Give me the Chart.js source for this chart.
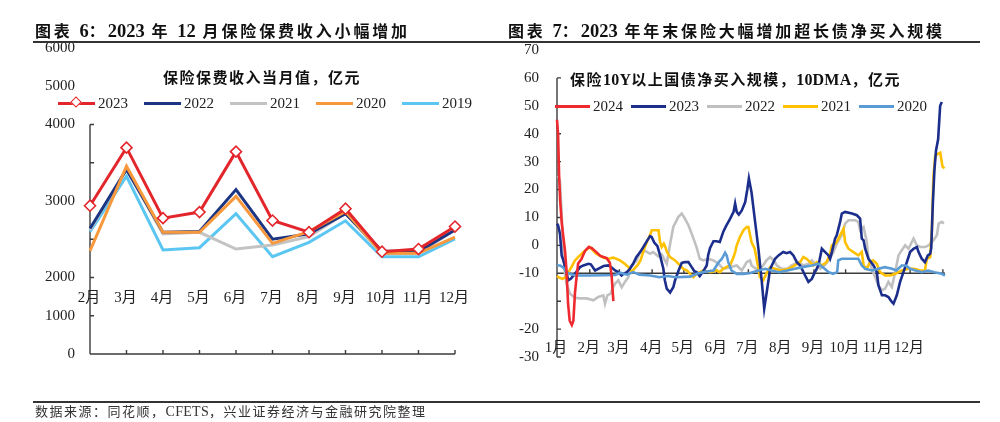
<!DOCTYPE html>
<html><head><meta charset="utf-8">
<script src="https://cdn.jsdelivr.net/npm/chart.js@4.4.1/dist/chart.umd.min.js"></script>
<style>
html,body{margin:0;padding:0;background:#fff;width:1000px;height:422px;overflow:hidden;position:relative;}
.abs{position:absolute;white-space:nowrap;}
.hdr{font-family:"Liberation Serif","Noto Sans CJK SC",serif;font-weight:bold;font-size:16px;letter-spacing:2.85px;color:#111;line-height:20px;}
.hdr .n{font-size:18.5px;letter-spacing:0;}
.sub{font-family:"Liberation Serif","Noto Sans CJK SC",serif;font-weight:bold;font-size:15px;letter-spacing:1.5px;color:#111;line-height:20px;}
.sub .n{font-size:16px;letter-spacing:0.2px;}
.src{font-family:"Liberation Serif","Noto Sans CJK SC",serif;font-size:13px;letter-spacing:1.5px;color:#333;line-height:16px;}
.src .n{font-size:14px;letter-spacing:0.3px;}
.rule{position:absolute;background:#333;height:1.5px;}
.leg{display:flex;align-items:center;font-family:"Liberation Serif",serif;font-size:15px;color:#222;line-height:18px;}
.leg .it{display:flex;align-items:center;position:relative;}
.leg .ln{display:inline-block;height:3px;}
.dia{position:absolute;width:6px;height:6px;background:#fff;border:1.6px solid;transform:rotate(45deg);}
canvas{position:absolute;top:0;}
</style></head>
<body>
<canvas id="cL" width="500" height="422" style="left:0"></canvas>
<canvas id="cR" width="500" height="422" style="left:500px"></canvas>

<div class="abs hdr" style="left:35px;top:21px;">图表 <span class="n">6</span>：<span class="n">2023</span> 年 <span class="n">12</span> 月保险保费收入小幅增加</div>
<div class="abs hdr" style="left:508px;top:21px;">图表 <span class="n">7</span>：<span class="n">2023</span> 年年末保险大幅增加超长债净买入规模</div>
<div class="rule" style="left:33px;top:41px;width:947px;"></div>
<div class="rule" style="left:33px;top:401px;width:947px;"></div>
<div class="abs src" style="left:35px;top:404px;">数据来源：同花顺，<span class="n">CFETS</span>，兴业证券经济与金融研究院整理</div>
<div class="abs sub" style="left:163px;top:68px;">保险保费收入当月值，亿元</div>
<div class="abs sub" style="left:570px;top:70px;">保险<span class="n">10Y</span>以上国债净买入规模，<span class="n">10DMA</span>，亿元</div>
<div class="abs leg" id="legL" style="left:58px;top:94px;"></div>
<div class="abs leg" id="legR" style="left:555px;top:97px;"></div>

<script>
// ---------- Left chart data (保险保费收入当月值，亿元) ----------
const monthsL = ['2月','3月','4月','5月','6月','7月','8月','9月','10月','11月','12月'];
const prem2023 = [2938, 3697, 2776, 2855, 3645, 2745, 2592, 2899, 2337, 2372, 2666];
const prem2022 = [2640, 3412, 2592, 2600, 3149, 2500, 2570, 2833, 2346, 2340, 2620];
const prem2021 = [2620, 3420, 2570, 2590, 2372, 2425, 2534, 2840, 2310, 2320, 2620];
const prem2020 = [2347, 3455, 2592, 2590, 3061, 2447, 2600, 2863, 2316, 2316, 2527];
const prem2019 = [2600, 3324, 2359, 2390, 2833, 2272, 2460, 2741, 2270, 2270, 2504];
const yTickValsL = [1000, 1500, 2000, 2500, 3000, 3500, 4000];
const yLabelValsL = [5000, 4500, 4000, 3000, 2000, 1500, 1000];
const yLabelTextL = ['6000', '5000', '4000', '3000', '2000', '1000', '0'];

// ---------- Right chart data (10DMA, 亿元), day-of-year / value ----------
const monthsR = ['1月','2月','3月','4月','5月','6月','7月','8月','9月','10月','11月','12月'];
const monthStartDays = [0,31,59,90,120,151,181,212,243,273,304,334];
const monthEndTicks = [31,59,90,120,151,181,212,243,273,304,334,365];
const yTickValsR = [-40,-30,-20,-10,0,10,20,30,40,50,60];
const yLabelValsR = [70,60,50,40,30,20,10,0,-10,-30,-40];
const yLabelTextR = ['70','60','50','40','30','20','10','0','-10','-20','-30'];

const days2024 = [0,1,2,3,4.5,6,7.6,9,10.5,12,14,15.5,17,18.6,20,23,26.5,30,33,37.5,41,47,50,51.7,53.3];
const vals2024 = [45,40,25,16,8,3,-2,-9,-21,-27,-28.5,-27,-17,-11,-6.5,-5,-2,-0.6,-1,-2.5,-3.8,-4.6,-6.2,-11,-20];

const days2023 = [0,1,2.8,4.4,6,7.6,10.7,13,17,21.8,25,29.7,32,36,39,44,48.6,52,55,58,61,63,66,69,72,75,78.5,81.7,85,88,89.5,92,95,97.5,100.6,102,103.8,107,110,111.7,115,118,121,124.3,127.4,130,132,135,138,141.6,143,144.8,148,151,154,157.4,160,163.7,167,168.5,170,172,174.8,178,180,181.5,184,187.4,190.5,193.7,196,198.4,201.6,206.3,209.5,214,217,220.5,223.6,226.8,230,234.7,237.8,241,244,247.3,250.5,253.7,256.8,258.3,260,263,264.6,267.8,269.4,272.5,279,283.6,286.7,288.3,290,291.5,294.6,299.4,302.5,304,307.3,310.4,313.5,316.7,318.3,321.4,324.6,327.7,330.9,334,337.2,340.4,342,345,348,350.8,353,354,355.5,357,358.5,360.5,362.4,364];
const vals2023 = [7.8,7.2,4.2,-3.6,-5.4,-7.8,-12.5,-12,-10.2,-7.8,-7.2,-6.6,-6.8,-9,-8.4,-7.4,-7.2,-8,-9,-9.6,-10.8,-10.2,-9.6,-8.4,-6.6,-4.2,-2.5,-0.6,1.5,3.3,3,1,-0.3,-3.6,-8.4,-12.5,-15.5,-16.9,-15,-12.5,-9,-6.3,-6,-6,-7.8,-9.3,-9.6,-11,-9.5,-7.2,-3.5,-0.9,1.5,1.5,1.2,5,7,9.5,12,15,12,11,12.5,15.5,20,24,19,8.4,-1.2,-13,-22.7,-16.7,-8.4,-4.8,-3.6,-2.4,-2.8,-2.4,-3.6,-6,-7.2,-10.8,-13.1,-12,-9.6,-7.2,-1.2,-2.4,-3.6,-4.8,-2.4,2.4,3.6,8.4,11.4,12,11.4,10.8,9.6,2.4,1.8,-1.2,-4.8,-7.2,-9.6,-14.3,-17.9,-17.9,-18.5,-20.3,-20.9,-17.9,-13,-9.6,-6,-2.4,-1.2,-0.6,-2.4,-4.8,-6,-3.6,-3,-1,15,27,34,38,50,51.4];

const days2022 = [1,2.8,4.4,6,7.6,9,12.3,17,21.8,28,34.4,39,43.8,45.4,47.6,50.8,52.7,55,58,61.2,64.4,67.5,69,72.2,75.4,78.5,83.3,88,91,96,99,103.8,107,110,114.8,118,121,124.3,127.4,132,135,138.5,143,148,152.7,157.4,163.7,170,174.8,179.5,182.6,184,190.5,195,198,201.6,205,208,212.6,218,222,225,228,233,238,241,246,249,253,258,261.5,264.6,269.4,272.5,275.7,282,285,286.7,290,293,294.6,297.8,301,304,307.3,310.4,313.5,316.7,319.9,323,326,329.3,332.5,335.6,337.2,340.4,344,348.2,351.4,356,359.3,361,364,366];
const vals2022 = [25,23,11.4,-0.6,-10.2,-13.7,-17.3,-18.8,-19,-19,-19.7,-18.5,-17.9,-20.9,-17.9,-17.3,-15.2,-13.7,-12.5,-15,-13,-11.4,-7.8,-6.6,-5.4,-2.4,-2,-3,-2.4,-4,-3.2,-6.6,0.6,6.6,10.2,11.4,9.6,7.2,4.2,-0.6,-4.8,-5.4,-4.8,-5.4,-6.6,-8.4,-7.8,-7.2,-9,-6,-5.4,-7.2,-9,-7.2,-5.4,-4.2,-5.4,-7.2,-8.4,-8.4,-7.2,-6.6,-6,-7.2,-6.6,-5.4,-7.2,-8.4,-7.2,-4.8,-2.4,0.6,3.6,7.8,9,9,8.4,5.4,6.6,1.2,-4.8,-8.4,-11.4,-14.3,-16.1,-15.5,-13.1,-14.9,-9.6,-3.6,-1.8,0,-1.2,1.2,2.4,0,-0.6,-0.6,0,1.8,3.6,7.8,8.4,7.8];

const days2021 = [0,1.3,5,8,11,14,17,20,25,28,31,34,37,40,44,49,53,56,59.6,64,67.5,70.7,73,76,79,82,85,88,89.6,93,96,97.5,99,101,102.5,104,107,111.7,116.4,119.6,123,125.9,129,132,135,138.5,145,151,154,157,160,163.7,167,168.5,170,173,176.3,179.5,181,184,187,190,192,195,198,201.6,206,212.6,219,225,230,233,236,239.4,242.5,245.7,250.5,255,258.3,260,263,264.6,267.8,271,272.5,275.7,280.4,285,288.3,290,293,296,299,302.5,305.6,310.4,315,319.9,326,332.5,338,343.5,348,349.8,353,354.6,356,357.7,360.8,362.5,364.6,366.5];
const vals2021 = [-11,-11.4,-12,-11.5,-9.5,-7.5,-5.4,-4.2,-2.4,-1.5,-0.6,-1.8,-3,-3.6,-4.4,-4.8,-4.4,-4.8,-5.4,-6.6,-7.8,-9.6,-8.4,-7.2,-5.4,-1.8,1.2,3.6,5.4,5.4,5.4,1.2,-0.6,0.6,-0.6,-2.4,-4.2,-5.4,-7.2,-8.4,-9,-10.2,-11.4,-10.2,-9.6,-9,-9.6,-9,-9.6,-8.4,-7.8,-7.2,-4.2,-2.4,0,3,5.4,6.6,6.6,1.2,-1.2,-7.2,-11.4,-12.5,-10.2,-7.8,-8.4,-9,-8.4,-7.2,-6,-4.2,-4.8,-6,-7.2,-6,-7.2,-6,-3,0,0.6,1.2,3.6,6,1.2,-1.2,-2.4,-3.6,-2.4,-7.2,-8.4,-6,-5.4,-6.6,-9.6,-10.8,-10.8,-10.2,-9,-8.4,-8.4,-9,-9,-4.8,-4.2,6,24,32,32.9,33.2,28.3,27.6];

const days2020 = [0,3,6,9,12,17,30,45,55,60,66,72,78,88,97,105,112,126,132,141,148,151,153,156,159,160.5,162,165,170,176,182,190.5,197,203,210,218,225,232,241,247.3,252,257,261,265,266,269.4,278,285,288.3,291.5,298,304,310,317,321,326,330,334,339,345,351,357,364,367];
const vals2020 = [-7.2,-7.2,-8,-9.5,-10.2,-10.8,-10.8,-10.7,-10.6,-9.8,-10.5,-9.6,-10.5,-10.8,-11.4,-11,-11.4,-11.2,-10.2,-9.4,-9,-7.2,-6,-4.8,-2.6,-3.6,-6,-9,-10.2,-10.2,-10,-9,-8.4,-9,-9.6,-9,-8.4,-7.8,-7.2,-6.6,-8,-9.6,-10.2,-9.6,-5.4,-4.8,-4.8,-4.8,-7.2,-8.4,-9,-8.4,-7.8,-8.4,-9,-7.2,-7.2,-8.4,-9,-9.6,-9,-9.6,-10.2,-10.8];

const pts = (d, v) => d.map((x, i) => ({x, y: v[i]}));

// ---------- custom axes drawn from the library's scales ----------
const customAxes = {
  id: 'customAxes',
  beforeDatasetsDraw(chart, _a, o) {
    const {ctx, chartArea: ca} = chart;
    const xs = chart.scales.x, ys = chart.scales.y;
    ctx.save();
    ctx.strokeStyle = '#3c3c3c'; ctx.lineWidth = 1.4;
    const ax = ca.left;
    ctx.beginPath();
    ctx.moveTo(ax, ys.getPixelForValue(o.yAxisFrom));
    ctx.lineTo(ax, ys.getPixelForValue(o.yAxisTo));
    o.yTicks.forEach(v => { const y = ys.getPixelForValue(v); ctx.moveTo(ax, y); ctx.lineTo(ax + 4, y); });
    const xy = ys.getPixelForValue(o.xAxisAt);
    ctx.moveTo(ca.left, xy); ctx.lineTo(ca.right, xy);
    o.xTicks.forEach(v => { const x = xs.getPixelForValue(v); ctx.moveTo(x, xy); ctx.lineTo(x, xy - 4); });
    ctx.stroke();
    ctx.fillStyle = '#222';
    ctx.font = '15px "Liberation Serif", "Noto Sans CJK SC", serif';
    ctx.textAlign = 'right'; ctx.textBaseline = 'middle';
    o.yLabelVals.forEach((v, i) => ctx.fillText(o.yLabelText[i], ca.left - o.yLabelGap, ys.getPixelForValue(v)));
    ctx.textAlign = 'center';
    o.xLabelVals.forEach((v, i) => ctx.fillText(o.xLabelText[i], xs.getPixelForValue(v) + o.xLabelDx, ca.bottom + o.xLabelDy));
    ctx.restore();
  }
};

// ---------- left chart ----------
const colL = {y2023:'#E3262B', y2022:'#1C3583', y2021:'#C3C3C3', y2020:'#F8983C', y2019:'#5CC6F2'};
const lineL = (label, data, color, order, extra) => Object.assign({
  label, data, borderColor: color, backgroundColor: color, borderWidth: 3,
  pointRadius: 0, tension: 0, clip: false, order
}, extra || {});
new Chart(document.getElementById('cL'), {
  type: 'line',
  data: {
    labels: monthsL,
    datasets: [
      lineL('2023', prem2023, colL.y2023, 1, {pointRadius: 5.5, pointStyle: 'rectRot', pointBackgroundColor: '#fff', pointBorderColor: colL.y2023, pointBorderWidth: 1.6}),
      lineL('2020', prem2020, colL.y2020, 2),
      lineL('2022', prem2022, colL.y2022, 3),
      lineL('2021', prem2021, colL.y2021, 4),
      lineL('2019', prem2019, colL.y2019, 5)
    ]
  },
  options: {
    responsive: false, animation: false,
    layout: {padding: {left: 90, right: 45, top: 48, bottom: 68}},
    scales: {
      x: {display: false, offset: false},
      y: {display: false, min: 1000, max: 5000}
    },
    plugins: {
      legend: {display: false}, tooltip: {enabled: false},
      customAxes: {
        yAxisFrom: 4000, yAxisTo: 1000, yTicks: yTickValsL, xAxisAt: 1000,
        xTicks: monthsL.map((_, i) => i),
        yLabelVals: yLabelValsL, yLabelText: yLabelTextL, yLabelGap: 15,
        xLabelVals: monthsL.map((_, i) => i), xLabelText: monthsL, xLabelDx: -1, xLabelDy: -56
      }
    }
  },
  plugins: [customAxes]
});

// ---------- right chart ----------
const colR = {y2024:'#EE2A2F', y2023:'#1B2E8C', y2022:'#C0C0C0', y2021:'#FFC000', y2020:'#5B9BD5'};
const lineR = (label, d, v, color, order) => ({
  label, data: pts(d, v), borderColor: color, backgroundColor: color, borderWidth: 2.6,
  pointRadius: 0, tension: 0, clip: false, order
});
new Chart(document.getElementById('cR'), {
  type: 'line',
  data: {
    datasets: [
      lineR('2024', days2024, vals2024, colR.y2024, 1),
      lineR('2020', days2020, vals2020, colR.y2020, 2),
      lineR('2023', days2023, vals2023, colR.y2023, 3),
      lineR('2021', days2021, vals2021, colR.y2021, 4),
      lineR('2022', days2022, vals2022, colR.y2022, 5)
    ]
  },
  options: {
    responsive: false, animation: false,
    layout: {padding: {left: 57, right: 55, top: 50, bottom: 65}},
    scales: {
      x: {type: 'linear', display: false, min: 0, max: 367},
      y: {display: false, min: -40, max: 70}
    },
    plugins: {
      legend: {display: false}, tooltip: {enabled: false},
      customAxes: {
        yAxisFrom: 60, yAxisTo: -40, yTicks: yTickValsR, xAxisAt: -10,
        xTicks: monthEndTicks,
        yLabelVals: yLabelValsR, yLabelText: yLabelTextR, yLabelGap: 18,
        xLabelVals: monthStartDays, xLabelText: monthsR, xLabelDx: -1, xLabelDy: -9
      }
    }
  },
  plugins: [customAxes]
});

// ---------- HTML legends ----------
function buildLegend(id, items, lineW, gapAfter) {
  const el = document.getElementById(id);
  items.forEach(([name, color, marker]) => {
    const it = document.createElement('div'); it.className = 'it';
    it.style.marginRight = gapAfter + 'px';
    const ln = document.createElement('span'); ln.className = 'ln';
    ln.style.width = lineW + 'px'; ln.style.background = color; ln.style.marginRight = '3px';
    it.appendChild(ln);
    if (marker) {
      const d = document.createElement('span'); d.className = 'dia';
      d.style.borderColor = color; d.style.left = (lineW / 2 - 4.6) + 'px'; d.style.top = '4.4px';
      it.appendChild(d);
    }
    const t = document.createElement('span'); t.textContent = name; it.appendChild(t);
    el.appendChild(it);
  });
}
buildLegend('legL', [['2023', colL.y2023, true], ['2022', colL.y2022], ['2021', colL.y2021], ['2020', colL.y2020], ['2019', colL.y2019]], 37, 16);
buildLegend('legR', [['2024', colR.y2024], ['2023', colR.y2023], ['2022', colR.y2022], ['2021', colR.y2021], ['2020', colR.y2020]], 35, 8);
</script>
</body></html>
